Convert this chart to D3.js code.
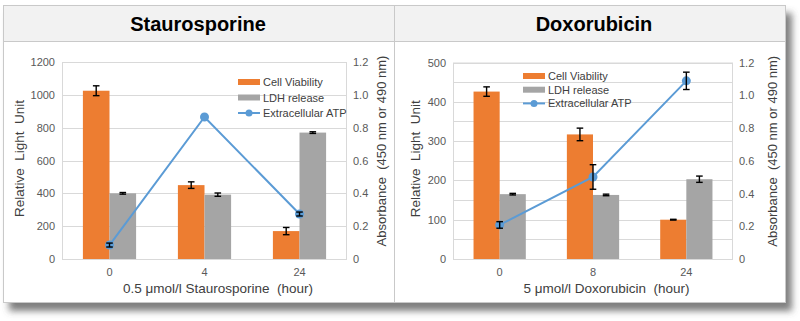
<!DOCTYPE html>
<html>
<head>
<meta charset="UTF-8">
<title>Cell death assays</title>
<script src="https://cdnjs.cloudflare.com/ajax/libs/d3/7.8.5/d3.min.js"></script>
<style>
  body { margin: 0; background: #fff; }
  svg { display: block; font-family: "Liberation Sans", Arial, sans-serif; }
  .grid line { stroke: #d9d9d9; stroke-width: 1; }
  .tick-label { font-size: 11px; fill: #595959; }
  .axis-title { font-size: 13.5px; fill: #404040; white-space: pre; }
  .axis-title.right { font-size: 13px; }
  .legend-text { font-size: 11px; fill: #404040; }
</style>
</head>
<body>
<div id="chart"></div>
<script>

// Staurosporine time course
var stauroHours = ["0", "4", "24"];
var stauroViability = [1025, 450, 170];
var stauroViabilityErr = [30, 20, 22];
var stauroLdh = [400, 392, 770];
var stauroLdhErr = [5, 10, 5];
var stauroAtp = [0.085, 0.865, 0.274];
var stauroAtpErr = [0.012, 0, 0.012];
var stauroLeftTicks = [0, 200, 400, 600, 800, 1000, 1200];

// Doxorubicin time course
var doxoHours = ["0", "8", "24"];
var doxoViability = [426, 317, 100];
var doxoViabilityErr = [12, 16, 1];
var doxoLdh = [165, 163, 203];
var doxoLdhErr = [2, 2, 8];
var doxoAtp = [0.208, 0.501, 1.088];
var doxoAtpErr = [0.02, 0.075, 0.053];
var doxoLeftTicks = [0, 100, 200, 300, 400, 500];
var doxoGridLines = [0, 50, 100, 150, 200, 250, 300, 350, 400, 450, 500];

var rightTicks = [0, 0.2, 0.4, 0.6, 0.8, 1.0, 1.2];
var seriesNames = ["Cell Viability", "LDH release", "Extracellular ATP"];

var orange = "#ED7D31", gray = "#A5A5A5", blue = "#5B9BD5";

var width = 800, height = 321;
var svg = d3.select("#chart").append("svg")
    .attr("width", width)
    .attr("height", height);

var defs = svg.append("defs");
var shadow = defs.append("filter").attr("id", "shadow")
    .attr("x", "-5%").attr("y", "-5%").attr("width", "115%").attr("height", "120%");
shadow.append("feDropShadow")
    .attr("dx", 6).attr("dy", 8).attr("stdDeviation", 3.5)
    .attr("flood-color", "#555").attr("flood-opacity", 0.75);

// frame: two cells with a shared header row
var frame = { x: 3, y: 5, w: 783, h: 298, split: 394, header: 41 };
svg.append("rect")
    .attr("x", frame.x).attr("y", frame.y)
    .attr("width", frame.w).attr("height", frame.h)
    .attr("fill", "#fff")
    .attr("filter", "url(#shadow)");
svg.append("rect")
    .attr("x", frame.x).attr("y", frame.y)
    .attr("width", frame.w).attr("height", frame.header - frame.y)
    .attr("fill", "#f2f2f2");
svg.append("rect")
    .attr("x", frame.x + 0.5).attr("y", frame.y + 0.5)
    .attr("width", frame.w - 1).attr("height", frame.h - 1)
    .attr("fill", "none").attr("stroke", "#c9c9c9");
svg.append("line")
    .attr("x1", frame.x).attr("x2", frame.x + frame.w)
    .attr("y1", frame.header + 0.5).attr("y2", frame.header + 0.5)
    .attr("stroke", "#c9c9c9");
svg.append("line")
    .attr("x1", frame.split + 0.5).attr("x2", frame.split + 0.5)
    .attr("y1", frame.y).attr("y2", frame.y + frame.h)
    .attr("stroke", "#c9c9c9");

function drawPanel(p) {
  var g = svg.append("g");

  g.append("text")
      .attr("x", p.titleX).attr("y", 31)
      .attr("text-anchor", "middle")
      .style("font-size", "20px").style("font-weight", "bold")
      .attr("fill", "#000")
      .text(p.title);

  var x = d3.scaleBand().domain(p.hours).range([p.x0, p.x1]);
  var yL = d3.scaleLinear().domain([0, p.leftMax]).range([p.y1, p.y0]);
  var yR = d3.scaleLinear().domain([0, 1.2]).range([p.y1, p.y0]);
  var bw = x.bandwidth() * 0.28;
  var cx = function(h) { return x(h) + x.bandwidth() / 2; };

  // gridlines and plot border
  g.append("g").attr("class", "grid")
    .selectAll("line").data(p.grid).join("line")
      .attr("x1", p.x0).attr("x2", p.x1)
      .attr("y1", function(d) { return Math.round(yL(d)) + 0.5; })
      .attr("y2", function(d) { return Math.round(yL(d)) + 0.5; });
  g.append("rect")
      .attr("x", p.x0 + 0.5).attr("y", p.y0 + 0.5)
      .attr("width", p.x1 - p.x0 - 1).attr("height", p.y1 - p.y0)
      .attr("fill", "none").attr("stroke", "#d9d9d9");

  // tick labels
  g.selectAll("text.left").data(p.leftTicks).join("text")
      .attr("class", "tick-label")
      .attr("x", p.x0 - 7).attr("y", function(d) { return yL(d) + 4; })
      .attr("text-anchor", "end")
      .text(function(d) { return d; });
  g.selectAll("text.right").data(rightTicks).join("text")
      .attr("class", "tick-label")
      .attr("x", p.x1 + 6).attr("y", function(d) { return yR(d) + 4; })
      .text(function(d) { return d === 0 ? "0" : d.toFixed(1); });
  g.selectAll("text.cat").data(p.hours).join("text")
      .attr("class", "tick-label")
      .attr("x", cx).attr("y", 276)
      .attr("text-anchor", "middle")
      .text(function(d) { return d; });

  // axis titles
  var midY = (p.y0 + p.y1) / 2;
  g.append("text").attr("class", "axis-title")
      .attr("x", (p.x0 + p.x1) / 2 + 13.5).attr("y", 293)
      .attr("text-anchor", "middle")
      .text(p.xTitle);
  g.append("text").attr("class", "axis-title")
      .attr("transform", "translate(" + (p.leftTitleX + 5) + "," + (midY - 2) + ") rotate(-90)")
      .attr("text-anchor", "middle")
      .text("Relative  Light  Unit");
  g.append("text").attr("class", "axis-title right")
      .attr("transform", "translate(" + (p.rightTitleX + 5) + "," + (midY - 9.5) + ") rotate(-90)")
      .attr("text-anchor", "middle")
      .text("Absorbance  (450 nm or 490 nm)");

  // bars
  var bars = [
    { vals: p.viability, err: p.viabilityErr, color: orange, off: -bw },
    { vals: p.ldh, err: p.ldhErr, color: gray, off: 0 }
  ];
  bars.forEach(function(s) {
    g.selectAll(null).data(p.hours).join("rect")
        .attr("x", function(h) { return cx(h) + s.off; })
        .attr("width", bw)
        .attr("y", function(h, i) { return yL(s.vals[i]); })
        .attr("height", function(h, i) { return p.y1 - yL(s.vals[i]); })
        .attr("fill", s.color);
  });

  // ATP line
  var line = d3.line()
      .x(function(d) { return cx(d.h); })
      .y(function(d) { return yR(d.v); });
  var atp = p.hours.map(function(h, i) { return { h: h, v: p.atp[i], e: p.atpErr[i] }; });
  g.append("path").datum(atp)
      .attr("d", line)
      .attr("fill", "none").attr("stroke", blue).attr("stroke-width", 2);
  g.selectAll(null).data(atp).join("circle")
      .attr("cx", function(d) { return cx(d.h); })
      .attr("cy", function(d) { return yR(d.v); })
      .attr("r", 4.5)
      .attr("fill", blue);

  // error bars
  var errs = [];
  bars.forEach(function(s) {
    p.hours.forEach(function(h, i) {
      errs.push({ x: cx(h) + s.off + bw / 2, lo: yL(s.vals[i] - s.err[i]), hi: yL(s.vals[i] + s.err[i]) });
    });
  });
  atp.forEach(function(d) {
    if (d.e > 0) errs.push({ x: cx(d.h), lo: yR(d.v - d.e), hi: yR(d.v + d.e) });
  });
  var eg = g.append("g").attr("stroke", "#000").attr("stroke-width", 1.4);
  eg.selectAll("line.v").data(errs).join("line")
      .attr("x1", function(d) { return d.x; }).attr("x2", function(d) { return d.x; })
      .attr("y1", function(d) { return d.lo; }).attr("y2", function(d) { return d.hi; });
  eg.selectAll("line.lo").data(errs).join("line")
      .attr("x1", function(d) { return d.x - 3.3; }).attr("x2", function(d) { return d.x + 3.3; })
      .attr("y1", function(d) { return d.lo; }).attr("y2", function(d) { return d.lo; });
  eg.selectAll("line.hi").data(errs).join("line")
      .attr("x1", function(d) { return d.x - 3.3; }).attr("x2", function(d) { return d.x + 3.3; })
      .attr("y1", function(d) { return d.hi; }).attr("y2", function(d) { return d.hi; });

  // legend
  var lg = g.append("g");
  seriesNames.forEach(function(name, i) {
    var ly = p.legendY + i * p.legendStep;
    if (i < 2) {
      lg.append("rect")
          .attr("x", p.legendX).attr("y", ly - 3)
          .attr("width", 22).attr("height", 6)
          .attr("fill", i === 0 ? orange : gray);
    } else {
      lg.append("line")
          .attr("x1", p.legendX).attr("x2", p.legendX + 22)
          .attr("y1", ly).attr("y2", ly)
          .attr("stroke", blue).attr("stroke-width", 2);
      lg.append("circle")
          .attr("cx", p.legendX + 11).attr("cy", ly).attr("r", 3.5)
          .attr("fill", blue);
    }
    lg.append("text").attr("class", "legend-text")
        .attr("x", p.legendX + 25).attr("y", ly + 4)
        .text(name);
  });
}

drawPanel({
  title: "Staurosporine", titleX: 198,
  hours: stauroHours, viability: stauroViability, viabilityErr: stauroViabilityErr,
  ldh: stauroLdh, ldhErr: stauroLdhErr, atp: stauroAtp, atpErr: stauroAtpErr,
  leftMax: 1200, leftTicks: stauroLeftTicks, grid: stauroLeftTicks,
  x0: 62, x1: 347, y0: 62, y1: 259,
  leftTitleX: 19, rightTitleX: 381,
  xTitle: "0.5 \u03bcmol/l Staurosporine  (hour)",
  legendX: 238, legendY: 82, legendStep: 15.5
});

drawPanel({
  title: "Doxorubicin", titleX: 594,
  hours: doxoHours, viability: doxoViability, viabilityErr: doxoViabilityErr,
  ldh: doxoLdh, ldhErr: doxoLdhErr, atp: doxoAtp, atpErr: doxoAtpErr,
  leftMax: 500, leftTicks: doxoLeftTicks, grid: doxoGridLines,
  x0: 453, x1: 733, y0: 62.5, y1: 259,
  leftTitleX: 415, rightTitleX: 772,
  xTitle: "5 \u03bcmol/l Doxorubicin  (hour)",
  legendX: 523, legendY: 76, legendStep: 13.7
});

</script>
</body>
</html>
